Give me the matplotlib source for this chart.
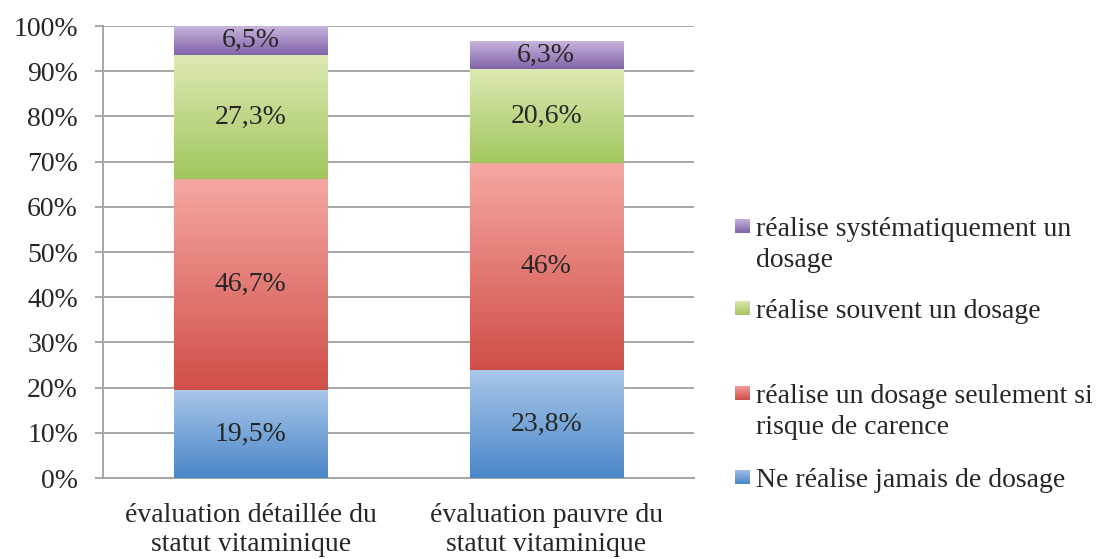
import numpy as np
import matplotlib
matplotlib.use("Agg")
import matplotlib.pyplot as plt
from matplotlib.colors import LinearSegmentedColormap

categories = ["évaluation détaillée du\nstatut vitaminique",
              "évaluation pauvre du\nstatut vitaminique"]
series_names = ["Ne réalise jamais de dosage",
                "réalise un dosage seulement si\nrisque de carence",
                "réalise souvent un dosage",
                "réalise systématiquement un\ndosage"]
jamais = [19.5, 23.8]
si_risque = [46.7, 46.0]
souvent = [27.3, 20.6]
systematique = [6.5, 6.3]
value_labels = [["19,5%", "23,8%"], ["46,7%", "46%"],
                ["27,3%", "20,6%"], ["6,5%", "6,3%"]]
y_ticks = list(range(0, 101, 10))

# light (top) / dark (bottom) colour of each segment's gradient
gradients = [("#a9c7e9", "#4a86c8"),
             ("#f6a8a3", "#d04e48"),
             ("#dde9b3", "#a2c65f"),
             ("#cbb8de", "#7f62a8")]

FS = 20
plt.rcParams["font.family"] = ["Liberation Serif", "DejaVu Serif"]
W, H = 1104, 559
fig = plt.figure(figsize=(W / 100, H / 100), dpi=100)
ax = fig.add_axes([103 / W, (H - 478) / H, (694 - 103) / W, (478 - 26) / H])

x = np.arange(len(categories))
bottom = np.zeros(len(categories))
ramp = np.linspace(0, 1, 256).reshape(-1, 1)
for values, labels, (light, dark) in zip([jamais, si_risque, souvent, systematique],
                                         value_labels, gradients):
    bars = ax.bar(x, values, width=0.518, bottom=bottom, color=dark,
                  linewidth=0, zorder=2)
    cmap = LinearSegmentedColormap.from_list("g", [dark, light])
    for bar, lab in zip(bars, labels):
        x0, y0 = bar.get_x(), bar.get_y()
        w, h = bar.get_width(), bar.get_height()
        im = ax.imshow(ramp, cmap=cmap, origin="lower", aspect="auto",
                       extent=[x0, x0 + w, y0, y0 + h], zorder=3)
        im.set_clip_path(bar)
        ax.text(x0 + w / 2, y0 + h / 2, lab, ha="center", va="center",
                fontsize=FS, color="#262626", zorder=4)
    bottom += np.array(values)

ax.set_xlim(-0.5, 1.5)
ax.set_ylim(0, 100)
ax.set_yticks(y_ticks)
ax.set_yticklabels([f"{t}%" for t in y_ticks], fontsize=FS, color="#262626")
ax.set_xticks(x)
ax.set_xticklabels(categories, fontsize=FS, color="#262626")
for lbl in ax.get_xticklabels():
    lbl.set_linespacing(1.2)
ax.tick_params(axis="x", length=0, pad=18)
ax.tick_params(axis="y", length=6, width=1.4, color="#a6a6a6", pad=12)
ax.grid(axis="y", color="#a6a6a6", linewidth=1.4, zorder=0)
ax.set_axisbelow(True)
for side in ["top", "right"]:
    ax.spines[side].set_visible(False)
for side in ["left", "bottom"]:
    ax.spines[side].set_color("#a6a6a6")
    ax.spines[side].set_linewidth(1.4)

# legend drawn by hand, top entry is the last series
legend_baselines = [487, 403, 318, 236]
for name, (light, dark), base in zip(series_names, gradients, legend_baselines):
    cy = base - 10
    sq = fig.add_axes([735 / W, (H - cy - 7.5) / H, 15 / W, 15 / H])
    sq.imshow(ramp, cmap=LinearSegmentedColormap.from_list("g", [dark, light]),
              origin="lower", aspect="auto")
    sq.axis("off")
    for i, line in enumerate(name.split("\n")):
        fig.text(756 / W, (H - base - 31 * i) / H, line, fontsize=FS,
                 color="#262626", ha="left", va="baseline")

fig.savefig("out.png", dpi=100)
